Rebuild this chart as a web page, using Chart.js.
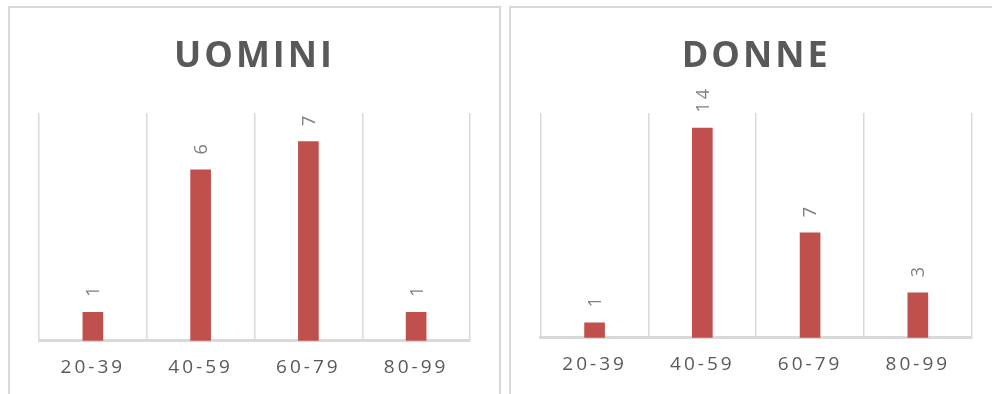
<!DOCTYPE html>
<html lang="it">
<head>
    <meta charset="UTF-8">
    <title>Uomini / Donne per fascia di età</title>
    <style>
        body {
            margin: 0;
            width: 992px;
            height: 394px;
            overflow: hidden;
            background: #ffffff;
            position: relative;
        }

        .box {
            position: absolute;
            top: 6px;
            height: 420px;
            border: 2px solid #d9d9d9;
            box-sizing: border-box;
        }

        #boxUomini { left: 8px; width: 493px; }
        #boxDonne { left: 509px; width: 500px; }

        .chartWrap {
            position: absolute;
            top: 0;
            height: 394px;
        }

        #wrapUomini { left: 0; width: 505px; }
        #wrapDonne { left: 505px; width: 487px; }
    </style>
    <script src="https://cdn.jsdelivr.net/npm/chart.js"></script>
</head>
<body>
    <div class="box" id="boxUomini"></div>
    <div class="box" id="boxDonne"></div>
    <div class="chartWrap" id="wrapUomini"><canvas id="chartUomini"></canvas></div>
    <div class="chartWrap" id="wrapDonne"><canvas id="chartDonne"></canvas></div>

    <script>
        // Fasce di età e conteggi
        const fasce = ['20-39', '40-59', '60-79', '80-99'];
        const uomini = [1, 6, 7, 1];
        const donne = [1, 14, 7, 3];
        const maxUomini = 8;
        const maxDonne = 15;

        const barColor = '#c0504d';
        const gridColor = '#d9d9d9';

        // Title drawn over the chart area, with spaced capitals
        const titlePlugin = {
            id: 'spacedTitle',
            afterDraw(chart, args, opts) {
                const ctx = chart.ctx;
                const area = chart.chartArea;
                ctx.save();
                ctx.font = 'bold 36px "Open Sans"';
                ctx.letterSpacing = '3px';
                ctx.fillStyle = '#595959';
                ctx.textAlign = 'center';
                ctx.textBaseline = 'alphabetic';
                ctx.fillText(opts.text, (area.left + area.right) / 2, opts.y);
                ctx.restore();
            }
        };

        // Value labels above each bar, rotated to read upwards
        const valueLabels = {
            id: 'valueLabels',
            afterDatasetsDraw(chart) {
                const ctx = chart.ctx;
                const meta = chart.getDatasetMeta(0);
                const values = chart.data.datasets[0].data;
                ctx.save();
                ctx.font = '18px "Open Sans"';
                ctx.fillStyle = '#808080';
                ctx.textAlign = 'left';
                ctx.textBaseline = 'alphabetic';
                meta.data.forEach((bar, i) => {
                    ctx.save();
                    ctx.translate(bar.x, bar.y - 15.5);
                    ctx.rotate(-Math.PI / 2);
                    ctx.fillText(String(values[i]), 0, 6.4);
                    ctx.restore();
                });
                ctx.restore();
            }
        };

        // Tick labels get letter spacing too
        const spacedTicks = {
            id: 'spacedTicks',
            beforeInit(chart) {
                chart.ctx.letterSpacing = '3px';
            },
            beforeDraw(chart) {
                chart.ctx.letterSpacing = '3px';
            }
        };

        function makeChart(id, values, yMax, title, padding, axisBottomPad) {
            const ctx = document.getElementById(id).getContext('2d');
            return new Chart(ctx, {
                type: 'bar',
                data: {
                    labels: fasce,
                    datasets: [{
                        data: values,
                        backgroundColor: barColor,
                        barThickness: 20
                    }]
                },
                options: {
                    responsive: true,
                    maintainAspectRatio: false,
                    animation: false,
                    layout: { padding: padding },
                    plugins: {
                        legend: { display: false },
                        tooltip: { enabled: false },
                        spacedTitle: { text: title, y: 67 }
                    },
                    scales: {
                        x: {
                            grid: {
                                color: gridColor,
                                lineWidth: 1.5,
                                drawTicks: false
                            },
                            border: {
                                color: gridColor,
                                width: 3
                            },
                            ticks: {
                                color: '#595959',
                                padding: 17.5,
                                font: { family: 'Open Sans', size: 19, lineHeight: 1 }
                            },
                            afterFit(scale) {
                                scale.height = axisBottomPad;
                            }
                        },
                        y: {
                            display: false,
                            min: 0,
                            max: yMax
                        }
                    }
                },
                plugins: [spacedTicks, valueLabels, titlePlugin]
            });
        }

        makeChart('chartUomini', uomini, maxUomini, 'UOMINI',
            { left: 39, right: 35, top: 113, bottom: 13.3 }, 40);
        makeChart('chartDonne', donne, maxDonne, 'DONNE',
            { left: 35.7, right: 20.3, top: 113, bottom: 16.3 }, 40);
    </script>
</body>
</html>
